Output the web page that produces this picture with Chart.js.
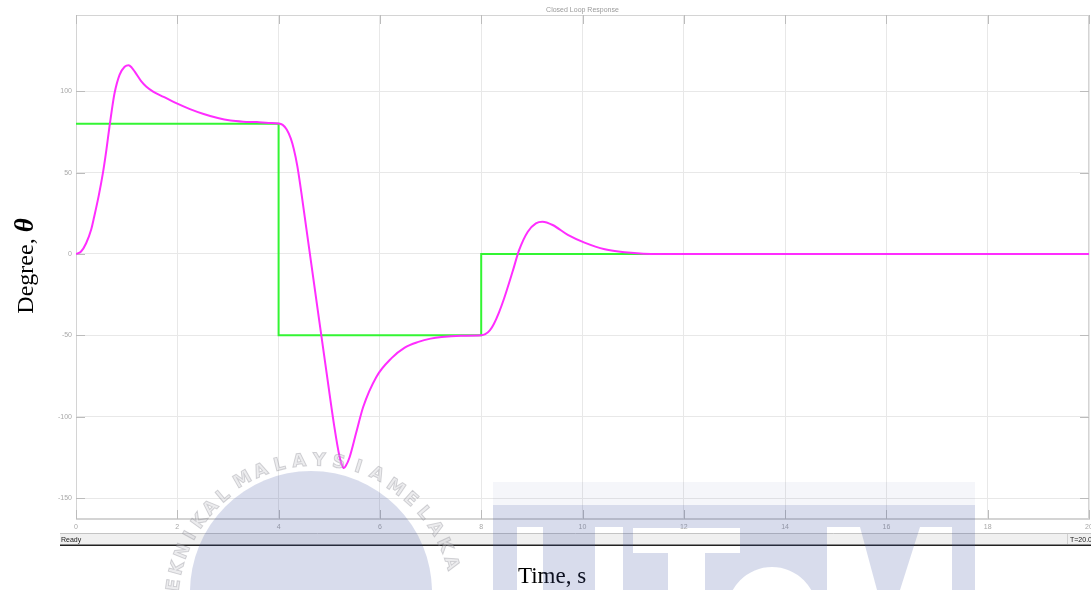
<!DOCTYPE html>
<html>
<head>
<meta charset="utf-8">
<script src="https://cdn.jsdelivr.net/npm/chart.js@4.4.1/dist/chart.umd.min.js"></script>
<style>
  html, body { margin: 0; padding: 0; background: #fff; overflow: hidden; }
  canvas { display: block; }
</style>
</head>
<body>
<canvas id="scope" width="1091" height="590"></canvas>
<script>
// Tick values for both axes
const timeTicks = [0, 2, 4, 6, 8, 10, 12, 14, 16, 18, 20];
const degreeTicks = [-150, -100, -50, 0, 50, 100];

// Set-point (step reference), held from each time to the next
const refTime = [0, 4, 8, 20];
const refDeg  = [80, -50, 0, 0];

// Closed-loop angle response
const respTime = [0, 0.1, 0.2, 0.3, 0.36, 0.45, 0.53, 0.6, 0.66, 0.71, 0.76, 0.86, 0.96, 1.04, 1.1, 1.16,
  1.29, 1.39, 1.53, 1.73, 1.99, 2.25, 2.52, 2.8, 3.05, 3.3, 3.57, 3.8,
  4.0, 4.08, 4.16, 4.24, 4.3, 4.37, 4.45, 4.6, 4.8, 4.97, 5.1, 5.2, 5.25, 5.29, 5.33, 5.4,
  5.53, 5.67, 5.93, 6.23, 6.49, 6.76, 7.0, 7.22, 7.6,
  8.0, 8.08, 8.17, 8.25, 8.35, 8.45, 8.62, 8.75, 8.92, 9.08, 9.21, 9.41, 9.71, 10.04, 10.44, 10.83, 11.2,
  12, 20];
const respDeg = [0, 1.5, 6.6, 15, 23, 36, 49.5, 64, 78, 89, 98.6, 110, 115, 116, 114.5, 112,
  106, 102.7, 99.6, 96.5, 92.5, 89, 86, 83.5, 82, 81.3, 81, 80.5,
  80.2, 79.3, 76.5, 71, 64.5, 54, 37.5, 4, -40.5, -78, -106, -124, -129.5, -131.5, -130, -125,
  -110, -94, -75.5, -64, -57.5, -54, -52, -51, -50.3,
  -50, -49.3, -47, -43, -36, -27.5, -10.8, 2.5, 13.7, 18.8, 19.8, 17.8, 11.7, 7, 2.9, 1, 0.2,
  0, 0];

const toPoints = (xs, ys) => xs.map((t, i) => ({ x: t, y: ys[i] }));

// Frame, inward tick marks and scope title around the plot area
const scopeFrame = {
  id: 'scopeFrame',
  beforeDatasetsDraw(chart) {
    const { ctx, chartArea: a, scales: { x, y } } = chart;
    ctx.save();
    ctx.strokeStyle = '#d4d4d4';
    ctx.lineWidth = 1;
    ctx.strokeRect(a.left + 0.5, a.top + 0.5, a.right - a.left - 1, a.bottom - a.top - 1);
    ctx.strokeStyle = '#bcbcbc';
    ctx.beginPath();
    timeTicks.forEach(t => {
      const px = Math.round(x.getPixelForValue(t)) + 0.5;
      ctx.moveTo(px, a.top); ctx.lineTo(px, a.top + 9);
      ctx.moveTo(px, a.bottom); ctx.lineTo(px, a.bottom - 9);
    });
    degreeTicks.forEach(v => {
      const py = Math.round(y.getPixelForValue(v)) + 0.5;
      ctx.moveTo(a.left, py); ctx.lineTo(a.left + 9, py);
      ctx.moveTo(a.right, py); ctx.lineTo(a.right - 9, py);
    });
    ctx.stroke();
    ctx.restore();
  },
  afterDraw(chart) {
    const { ctx, chartArea: a } = chart;
    ctx.save();
    // scope title
    ctx.fillStyle = '#9a9a9a';
    ctx.font = '7px "Liberation Sans", Arial, sans-serif';
    ctx.textAlign = 'center';
    ctx.textBaseline = 'middle';
    ctx.fillText('Closed Loop Response', (a.left + a.right) / 2, 10);

    // status bar
    ctx.fillStyle = '#f0f0f0';
    ctx.fillRect(60, 533, 1031, 12);
    ctx.strokeStyle = '#c4c4c4';
    ctx.beginPath(); ctx.moveTo(60, 533.5); ctx.lineTo(1091, 533.5); ctx.stroke();
    ctx.strokeStyle = '#d0d0d0';
    ctx.beginPath(); ctx.moveTo(1067.5, 534); ctx.lineTo(1067.5, 544); ctx.stroke();
    ctx.fillStyle = '#222';
    ctx.fillRect(60, 544.5, 1031, 1.5);
    ctx.font = '7px "Liberation Sans", Arial, sans-serif';
    ctx.textAlign = 'left';
    ctx.fillStyle = '#1a1a1a';
    ctx.fillText('Ready', 61, 540);
    ctx.fillText('T=20.00', 1070, 540);

    // axis titles
    ctx.fillStyle = '#000';
    ctx.textBaseline = 'alphabetic';
    ctx.textAlign = 'center';
    ctx.font = '23px "Liberation Serif", "Times New Roman", serif';
    ctx.fillText('Time, s', 552, 583);

    ctx.translate(33, 266);
    ctx.rotate(-Math.PI / 2);
    const lead = 'Degree, ';
    const regular = '24px "Liberation Serif", "Times New Roman", serif';
    const symbol = 'italic bold 27px "Liberation Serif", "Times New Roman", serif';
    ctx.font = regular;
    const w1 = ctx.measureText(lead).width;
    ctx.font = symbol;
    const w2 = ctx.measureText('θ').width;
    const x0 = -(w1 + w2) / 2;
    ctx.textAlign = 'left';
    ctx.font = regular;
    ctx.fillText(lead, x0, 0);
    ctx.font = symbol;
    ctx.fillText('θ', x0 + w1, 0);
    ctx.restore();

    drawWatermark(ctx);
  }
};

// Faint university emblem laid over the lower part of the figure
function drawWatermark(ctx) {
  const tint = 'rgba(60,80,160,0.2)';
  ctx.save();

  // round seal
  ctx.fillStyle = tint;
  ctx.beginPath();
  ctx.arc(311, 592, 121, 0, Math.PI * 2);
  ctx.fill();

  const arcText = (text, cx, cy, r, startDeg, stepDeg) => {
    for (let i = 0; i < text.length; i++) {
      const ang = (startDeg + i * stepDeg) * Math.PI / 180;
      ctx.save();
      ctx.translate(cx + r * Math.cos(ang), cy + r * Math.sin(ang));
      ctx.rotate(ang + Math.PI / 2);
      ctx.fillText(text[i], 0, 0);
      ctx.strokeText(text[i], 0, 0);
      ctx.restore();
    }
  };
  ctx.font = 'bold 18px "DejaVu Sans", sans-serif';
  ctx.textAlign = 'center';
  ctx.textBaseline = 'middle';
  ctx.fillStyle = 'rgba(200,200,205,0.35)';
  ctx.strokeStyle = 'rgba(120,120,130,0.3)';
  ctx.lineWidth = 1;
  arcText('TEKNIKAL', 315, 605, 142, -179, 7);
  arcText('MALAYSIA', 315, 605, 144, -120, 7.9);
  arcText('MELAKA', 315, 605, 142, -55.6, 7.7);

  // lettered block
  ctx.fillStyle = 'rgba(60,80,160,0.05)';
  ctx.fillRect(493, 482, 482, 23);

  ctx.beginPath();
  ctx.rect(493, 505, 482, 85);
  // U
  ctx.rect(517, 527, 26, 63);
  ctx.rect(595, 527, 28, 63);
  // T
  ctx.rect(633, 528, 107, 25);
  ctx.rect(668, 553, 37, 37);
  // e
  ctx.moveTo(817, 612);
  ctx.arc(772, 612, 45, 0, Math.PI * 2);
  ctx.moveTo(794, 612);
  ctx.arc(772, 612, 22, 0, Math.PI * 2);
  // M
  ctx.moveTo(827, 527);
  ctx.lineTo(860, 527);
  ctx.lineTo(877, 590);
  ctx.lineTo(900, 590);
  ctx.lineTo(920, 527);
  ctx.lineTo(952, 527);
  ctx.lineTo(952, 590);
  ctx.lineTo(827, 590);
  ctx.closePath();
  ctx.fillStyle = tint;
  ctx.fill('evenodd');
  ctx.restore();
}

new Chart(document.getElementById('scope'), {
  type: 'line',
  data: {
    datasets: [
      {
        label: 'Response',
        data: toPoints(respTime, respDeg),
        borderColor: '#ff2dff',
        borderWidth: 2,
        pointRadius: 0,
        cubicInterpolationMode: 'monotone',
        fill: false
      },
      {
        label: 'Reference',
        data: toPoints(refTime, refDeg),
        borderColor: '#33f533',
        borderWidth: 2,
        pointRadius: 0,
        stepped: 'before',
        fill: false
      }
    ]
  },
  options: {
    responsive: false,
    animation: false,
    devicePixelRatio: 1,
    layout: { padding: { left: 0, right: 2, top: 15, bottom: 55 } },
    plugins: {
      legend: { display: false },
      tooltip: { enabled: false },
      title: { display: false }
    },
    scales: {
      x: {
        type: 'linear',
        min: 0,
        max: 20,
        afterBuildTicks: s => { s.ticks = timeTicks.map(v => ({ value: v })); },
        afterFit: s => { s.height = 16; s.paddingLeft = 0; s.paddingRight = 0; },
        ticks: {
          color: '#a8a8a8',
          font: { size: 7, family: '"Liberation Sans", Arial, sans-serif' },
          padding: 4,
          maxRotation: 0,
          autoSkip: false,
          callback: v => String(v)
        },
        grid: { color: '#e8e8e8', drawTicks: false },
        border: { color: '#d4d4d4' }
      },
      y: {
        type: 'linear',
        min: -162.8,
        max: 146.8,
        afterBuildTicks: s => { s.ticks = degreeTicks.map(v => ({ value: v })); },
        afterFit: s => { s.width = 76; s.paddingTop = 0; s.paddingBottom = 0; },
        ticks: {
          color: '#a8a8a8',
          font: { size: 7, family: '"Liberation Sans", Arial, sans-serif' },
          padding: 4,
          autoSkip: false,
          callback: v => String(v)
        },
        grid: { color: '#e8e8e8', drawTicks: false },
        border: { color: '#d4d4d4' }
      }
    }
  },
  plugins: [scopeFrame]
});
</script>
</body>
</html>
